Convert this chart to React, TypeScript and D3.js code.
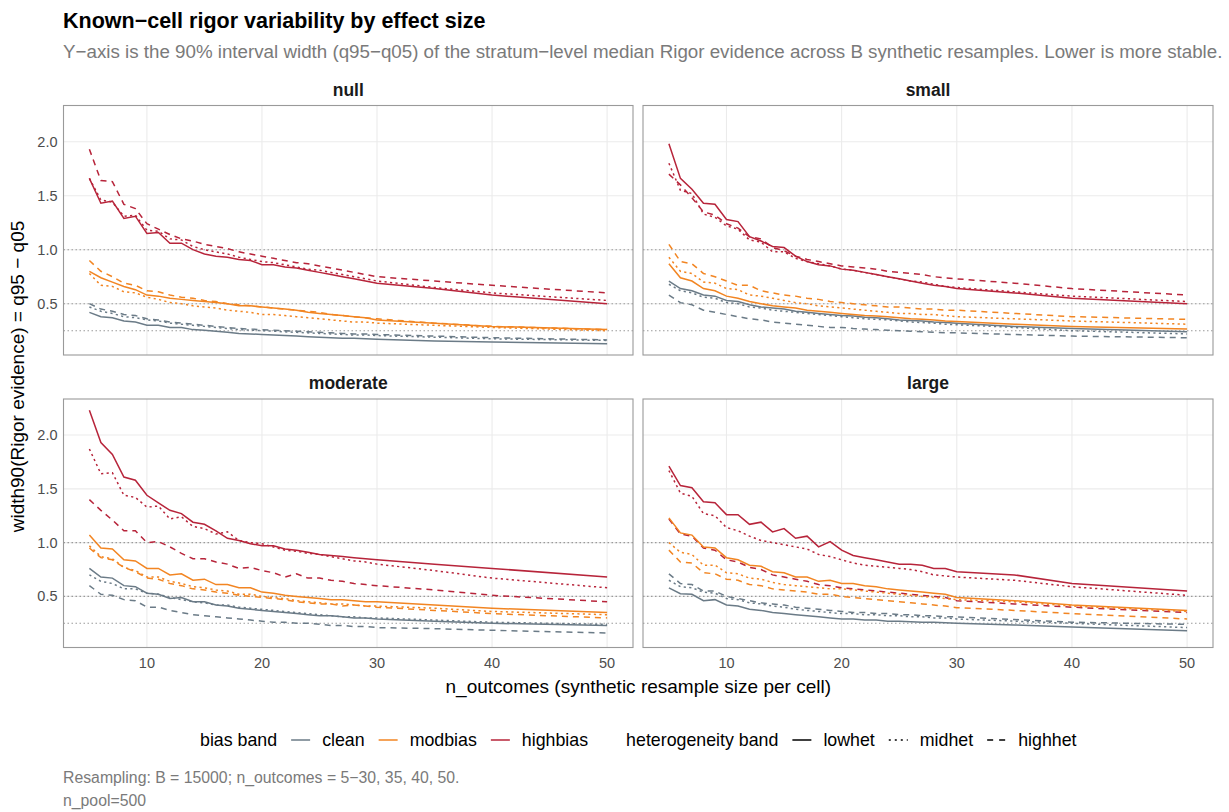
import React, { useEffect, useRef } from 'react';
import * as d3 from 'd3';

// n_outcomes grid used in the resampling
const N_OUTCOMES = [5, 6, 7, 8, 9, 10, 11, 12, 13, 14, 15, 16, 17, 18, 19, 20, 21, 22, 23, 24, 25, 26, 27, 28, 29, 30, 35, 40, 50];

const FACETS = ['null', 'small', 'moderate', 'large'];
const BIAS_BANDS = ['clean', 'modbias', 'highbias'];
const HET_BANDS = ['lowhet', 'midhet', 'highhet'];
const REF_LINES = [0.25, 0.5, 1.0];
const Y_TICKS = [0.5, 1.0, 1.5, 2.0];
const X_TICKS = [10, 20, 30, 40, 50];

// null
const nullCleanLow = [0.42, 0.38, 0.37, 0.34, 0.33, 0.3, 0.3, 0.28, 0.28, 0.26, 0.255, 0.245, 0.235, 0.225, 0.22, 0.215, 0.21, 0.205, 0.2, 0.195, 0.19, 0.185, 0.18, 0.18, 0.175, 0.17, 0.155, 0.145, 0.13];
const nullCleanMid = [0.47, 0.43, 0.41, 0.38, 0.37, 0.35, 0.34, 0.32, 0.31, 0.3, 0.29, 0.28, 0.27, 0.26, 0.255, 0.25, 0.245, 0.24, 0.235, 0.23, 0.225, 0.22, 0.215, 0.21, 0.21, 0.205, 0.19, 0.175, 0.16];
const nullCleanHigh = [0.5, 0.45, 0.43, 0.4, 0.39, 0.36, 0.35, 0.33, 0.32, 0.31, 0.3, 0.29, 0.28, 0.27, 0.265, 0.26, 0.255, 0.25, 0.245, 0.24, 0.235, 0.23, 0.225, 0.22, 0.22, 0.215, 0.2, 0.185, 0.165];
const nullModLow = [0.8, 0.74, 0.7, 0.66, 0.63, 0.58, 0.57, 0.55, 0.54, 0.53, 0.52, 0.51, 0.5, 0.48, 0.48, 0.47, 0.46, 0.45, 0.44, 0.42, 0.41, 0.4, 0.39, 0.38, 0.37, 0.35, 0.32, 0.29, 0.26];
const nullModMid = [0.78, 0.67, 0.66, 0.61, 0.6, 0.56, 0.54, 0.51, 0.5, 0.48, 0.47, 0.46, 0.44, 0.43, 0.42, 0.4, 0.4, 0.39, 0.38, 0.37, 0.36, 0.35, 0.34, 0.33, 0.33, 0.32, 0.3, 0.28, 0.25];
const nullModHigh = [0.9, 0.8, 0.75, 0.69, 0.67, 0.62, 0.61, 0.58, 0.56, 0.55, 0.53, 0.52, 0.5, 0.49, 0.48, 0.47, 0.46, 0.45, 0.44, 0.43, 0.42, 0.4, 0.39, 0.38, 0.37, 0.36, 0.32, 0.29, 0.26];
const nullHighLow = [1.66, 1.43, 1.45, 1.29, 1.31, 1.15, 1.16, 1.06, 1.06, 1.0, 0.96, 0.94, 0.93, 0.91, 0.9, 0.86, 0.86, 0.84, 0.83, 0.81, 0.79, 0.77, 0.75, 0.73, 0.71, 0.69, 0.64, 0.58, 0.5];
const nullHighMid = [1.66, 1.46, 1.44, 1.31, 1.32, 1.18, 1.17, 1.1, 1.09, 1.03, 1.0, 0.98, 0.96, 0.93, 0.91, 0.89, 0.88, 0.86, 0.84, 0.82, 0.81, 0.79, 0.77, 0.75, 0.73, 0.71, 0.65, 0.6, 0.53];
const nullHighHigh = [1.93, 1.64, 1.63, 1.42, 1.38, 1.24, 1.19, 1.14, 1.1, 1.08, 1.05, 1.03, 1.01, 0.98, 0.96, 0.94, 0.92, 0.9, 0.88, 0.87, 0.85, 0.83, 0.81, 0.79, 0.77, 0.75, 0.71, 0.67, 0.6];

// small
const smallCleanLow = [0.71, 0.64, 0.62, 0.58, 0.57, 0.53, 0.52, 0.49, 0.47, 0.46, 0.45, 0.43, 0.42, 0.41, 0.4, 0.39, 0.385, 0.375, 0.37, 0.36, 0.35, 0.345, 0.34, 0.33, 0.325, 0.32, 0.29, 0.27, 0.24];
const smallCleanMid = [0.68, 0.62, 0.6, 0.56, 0.55, 0.51, 0.5, 0.47, 0.46, 0.44, 0.43, 0.42, 0.41, 0.4, 0.39, 0.38, 0.37, 0.36, 0.355, 0.35, 0.34, 0.33, 0.325, 0.32, 0.31, 0.305, 0.28, 0.25, 0.22];
const smallCleanHigh = [0.58, 0.51, 0.49, 0.44, 0.42, 0.4, 0.38, 0.36, 0.35, 0.33, 0.32, 0.31, 0.3, 0.29, 0.28, 0.28, 0.27, 0.265, 0.26, 0.255, 0.25, 0.245, 0.24, 0.235, 0.23, 0.23, 0.215, 0.2, 0.185];
const smallModLow = [0.87, 0.74, 0.71, 0.64, 0.62, 0.57, 0.55, 0.52, 0.5, 0.48, 0.47, 0.46, 0.44, 0.43, 0.42, 0.41, 0.4, 0.39, 0.385, 0.38, 0.37, 0.36, 0.355, 0.35, 0.34, 0.335, 0.31, 0.29, 0.265];
const smallModMid = [0.93, 0.8, 0.78, 0.7, 0.69, 0.64, 0.63, 0.58, 0.57, 0.55, 0.53, 0.51, 0.5, 0.48, 0.47, 0.46, 0.45, 0.44, 0.43, 0.42, 0.41, 0.41, 0.4, 0.4, 0.39, 0.38, 0.36, 0.34, 0.31];
const smallModHigh = [1.05, 0.89, 0.87, 0.78, 0.75, 0.71, 0.67, 0.67, 0.62, 0.6, 0.58, 0.57, 0.55, 0.54, 0.52, 0.51, 0.5, 0.49, 0.48, 0.47, 0.47, 0.46, 0.45, 0.45, 0.44, 0.44, 0.41, 0.38, 0.355];
const smallHighLow = [1.98, 1.66, 1.56, 1.43, 1.42, 1.28, 1.26, 1.12, 1.08, 1.03, 1.02, 0.94, 0.89, 0.86, 0.85, 0.82, 0.81, 0.79, 0.77, 0.75, 0.73, 0.71, 0.69, 0.67, 0.66, 0.64, 0.6, 0.55, 0.5];
const smallHighMid = [1.8, 1.55, 1.52, 1.33, 1.3, 1.22, 1.19, 1.09, 1.07, 0.98, 0.98, 0.92, 0.89, 0.87, 0.85, 0.82, 0.81, 0.79, 0.77, 0.75, 0.73, 0.71, 0.7, 0.68, 0.66, 0.65, 0.61, 0.57, 0.52];
const smallHighHigh = [1.7, 1.6, 1.48, 1.35, 1.32, 1.24, 1.2, 1.12, 1.1, 1.02, 0.99, 0.94, 0.91, 0.89, 0.87, 0.85, 0.84, 0.83, 0.82, 0.8, 0.79, 0.78, 0.77, 0.75, 0.74, 0.73, 0.69, 0.64, 0.58];

// moderate
const modCleanLow = [0.76, 0.68, 0.67, 0.6, 0.59, 0.53, 0.52, 0.48, 0.49, 0.45, 0.45, 0.42, 0.41, 0.39, 0.38, 0.37, 0.36, 0.35, 0.34, 0.33, 0.32, 0.32, 0.31, 0.3, 0.3, 0.29, 0.27, 0.25, 0.23];
const modCleanMid = [0.7, 0.64, 0.62, 0.57, 0.57, 0.53, 0.52, 0.49, 0.47, 0.45, 0.44, 0.42, 0.42, 0.4, 0.39, 0.38, 0.37, 0.36, 0.35, 0.34, 0.33, 0.32, 0.31, 0.31, 0.3, 0.3, 0.28, 0.26, 0.24];
const modCleanHigh = [0.6, 0.52, 0.51, 0.47, 0.46, 0.4, 0.4, 0.37, 0.35, 0.33, 0.32, 0.31, 0.3, 0.29, 0.28, 0.27, 0.26, 0.26, 0.25, 0.25, 0.24, 0.23, 0.23, 0.22, 0.22, 0.21, 0.2, 0.185, 0.16];
const modModLow = [1.07, 0.95, 0.94, 0.84, 0.83, 0.76, 0.76, 0.7, 0.71, 0.65, 0.66, 0.61, 0.61, 0.58, 0.58, 0.54, 0.53, 0.51, 0.5, 0.49, 0.48, 0.47, 0.47, 0.46, 0.45, 0.45, 0.42, 0.39, 0.35];
const modModMid = [0.97, 0.87, 0.85, 0.77, 0.74, 0.68, 0.68, 0.64, 0.62, 0.59, 0.58, 0.56, 0.55, 0.52, 0.52, 0.5, 0.49, 0.48, 0.46, 0.45, 0.44, 0.43, 0.43, 0.42, 0.41, 0.41, 0.39, 0.36, 0.33];
const modModHigh = [0.95, 0.86, 0.84, 0.77, 0.73, 0.67, 0.66, 0.62, 0.6, 0.57, 0.56, 0.54, 0.53, 0.51, 0.5, 0.49, 0.48, 0.47, 0.45, 0.44, 0.43, 0.43, 0.41, 0.42, 0.41, 0.4, 0.37, 0.34, 0.3];
const modHighLow = [2.23, 1.93, 1.82, 1.61, 1.58, 1.44, 1.37, 1.3, 1.27, 1.19, 1.17, 1.11, 1.04, 1.02, 0.99, 0.97, 0.97, 0.94, 0.93, 0.91, 0.89, 0.88, 0.87, 0.86, 0.85, 0.84, 0.8, 0.76, 0.68];
const modHighMid = [1.87, 1.64, 1.65, 1.44, 1.42, 1.33, 1.34, 1.22, 1.24, 1.15, 1.13, 1.08, 1.1, 1.02, 1.0, 0.99, 0.96, 0.93, 0.92, 0.9, 0.89, 0.87, 0.85, 0.83, 0.82, 0.8, 0.74, 0.67, 0.58];
const modHighHigh = [1.4, 1.3, 1.21, 1.11, 1.11, 1.0, 1.01, 0.96, 0.9, 0.85, 0.85, 0.82, 0.8, 0.76, 0.77, 0.74, 0.72, 0.68, 0.71, 0.67, 0.67, 0.65, 0.64, 0.62, 0.61, 0.6, 0.56, 0.51, 0.45];

// large
const largeCleanLow = [0.58, 0.525, 0.52, 0.46, 0.47, 0.42, 0.41, 0.38, 0.37, 0.35, 0.34, 0.33, 0.32, 0.31, 0.3, 0.29, 0.29, 0.28, 0.28, 0.27, 0.27, 0.265, 0.26, 0.26, 0.255, 0.25, 0.235, 0.215, 0.18];
const largeCleanMid = [0.65, 0.59, 0.58, 0.54, 0.53, 0.48, 0.47, 0.44, 0.43, 0.41, 0.4, 0.38, 0.37, 0.36, 0.35, 0.34, 0.34, 0.33, 0.33, 0.32, 0.32, 0.31, 0.31, 0.3, 0.3, 0.29, 0.27, 0.25, 0.21];
const largeCleanHigh = [0.71, 0.62, 0.61, 0.55, 0.55, 0.5, 0.48, 0.46, 0.44, 0.43, 0.42, 0.4, 0.39, 0.38, 0.37, 0.36, 0.35, 0.35, 0.34, 0.34, 0.33, 0.33, 0.32, 0.32, 0.31, 0.31, 0.285, 0.26, 0.24];
const largeModLow = [1.23, 1.09, 1.07, 0.96, 0.95, 0.86, 0.84, 0.79, 0.78, 0.73, 0.72, 0.68, 0.68, 0.64, 0.65, 0.62, 0.62, 0.6, 0.59, 0.57, 0.56, 0.55, 0.54, 0.53, 0.52, 0.49, 0.46, 0.42, 0.37];
const largeModMid = [1.0, 0.91, 0.89, 0.79, 0.79, 0.72, 0.71, 0.67, 0.66, 0.63, 0.61, 0.6, 0.59, 0.58, 0.57, 0.57, 0.56, 0.55, 0.54, 0.53, 0.52, 0.51, 0.5, 0.49, 0.48, 0.47, 0.45, 0.41, 0.36];
const largeModHigh = [0.93, 0.82, 0.81, 0.72, 0.71, 0.66, 0.65, 0.61, 0.6, 0.57, 0.56, 0.55, 0.54, 0.52, 0.52, 0.5, 0.49, 0.48, 0.47, 0.46, 0.45, 0.44, 0.43, 0.42, 0.41, 0.395, 0.37, 0.34, 0.29];
const largeHighLow = [1.71, 1.53, 1.51, 1.38, 1.37, 1.26, 1.26, 1.17, 1.19, 1.1, 1.13, 1.04, 1.06, 0.96, 1.01, 0.93, 0.88, 0.86, 0.84, 0.82, 0.8, 0.8, 0.79, 0.76, 0.76, 0.73, 0.7, 0.62, 0.55];
const largeHighMid = [1.67, 1.46, 1.43, 1.27, 1.25, 1.14, 1.11, 1.06, 1.02, 1.0, 0.98, 0.96, 0.94, 0.89, 0.87, 0.84, 0.81, 0.79, 0.78, 0.77, 0.76, 0.75, 0.73, 0.7, 0.69, 0.68, 0.65, 0.59, 0.51];
const largeHighHigh = [1.22, 1.08, 1.06, 0.95, 0.93, 0.84, 0.82, 0.77, 0.75, 0.7, 0.68, 0.66, 0.64, 0.61, 0.6, 0.58, 0.57, 0.56, 0.55, 0.54, 0.53, 0.52, 0.51, 0.5, 0.49, 0.46, 0.43, 0.4, 0.35];

// drawn in this order (highbias before modbias, so orange sits on top where they overlap)
const SERIES = [
  { facet: 'null', bias: 'clean', het: 'lowhet', values: nullCleanLow },
  { facet: 'null', bias: 'clean', het: 'midhet', values: nullCleanMid },
  { facet: 'null', bias: 'clean', het: 'highhet', values: nullCleanHigh },
  { facet: 'null', bias: 'highbias', het: 'lowhet', values: nullHighLow },
  { facet: 'null', bias: 'highbias', het: 'midhet', values: nullHighMid },
  { facet: 'null', bias: 'highbias', het: 'highhet', values: nullHighHigh },
  { facet: 'null', bias: 'modbias', het: 'lowhet', values: nullModLow },
  { facet: 'null', bias: 'modbias', het: 'midhet', values: nullModMid },
  { facet: 'null', bias: 'modbias', het: 'highhet', values: nullModHigh },
  { facet: 'small', bias: 'clean', het: 'lowhet', values: smallCleanLow },
  { facet: 'small', bias: 'clean', het: 'midhet', values: smallCleanMid },
  { facet: 'small', bias: 'clean', het: 'highhet', values: smallCleanHigh },
  { facet: 'small', bias: 'highbias', het: 'lowhet', values: smallHighLow },
  { facet: 'small', bias: 'highbias', het: 'midhet', values: smallHighMid },
  { facet: 'small', bias: 'highbias', het: 'highhet', values: smallHighHigh },
  { facet: 'small', bias: 'modbias', het: 'lowhet', values: smallModLow },
  { facet: 'small', bias: 'modbias', het: 'midhet', values: smallModMid },
  { facet: 'small', bias: 'modbias', het: 'highhet', values: smallModHigh },
  { facet: 'moderate', bias: 'clean', het: 'lowhet', values: modCleanLow },
  { facet: 'moderate', bias: 'clean', het: 'midhet', values: modCleanMid },
  { facet: 'moderate', bias: 'clean', het: 'highhet', values: modCleanHigh },
  { facet: 'moderate', bias: 'highbias', het: 'lowhet', values: modHighLow },
  { facet: 'moderate', bias: 'highbias', het: 'midhet', values: modHighMid },
  { facet: 'moderate', bias: 'highbias', het: 'highhet', values: modHighHigh },
  { facet: 'moderate', bias: 'modbias', het: 'lowhet', values: modModLow },
  { facet: 'moderate', bias: 'modbias', het: 'midhet', values: modModMid },
  { facet: 'moderate', bias: 'modbias', het: 'highhet', values: modModHigh },
  { facet: 'large', bias: 'clean', het: 'lowhet', values: largeCleanLow },
  { facet: 'large', bias: 'clean', het: 'midhet', values: largeCleanMid },
  { facet: 'large', bias: 'clean', het: 'highhet', values: largeCleanHigh },
  { facet: 'large', bias: 'highbias', het: 'lowhet', values: largeHighLow },
  { facet: 'large', bias: 'highbias', het: 'midhet', values: largeHighMid },
  { facet: 'large', bias: 'highbias', het: 'highhet', values: largeHighHigh },
  { facet: 'large', bias: 'modbias', het: 'lowhet', values: largeModLow },
  { facet: 'large', bias: 'modbias', het: 'midhet', values: largeModMid },
  { facet: 'large', bias: 'modbias', het: 'highhet', values: largeModHigh },
];

const COLORS: Record<string, string> = { clean: '#6b7b87', modbias: '#f28522', highbias: '#b7243a' };
const DASHES: Record<string, string | null> = { lowhet: null, midhet: '2.2,3.3', highhet: '6,5' };
const FONT = '"Liberation Sans", Arial, Helvetica, sans-serif';

const App = () => {
  const ref = useRef<SVGSVGElement | null>(null);

  useEffect(() => {
    const W = 1229;
    const H = 812;
    const svg = d3.select(ref.current);
    svg.selectAll('*').remove();
    svg.attr('width', W).attr('height', H).style('font-family', FONT);

    svg.append('rect').attr('width', W).attr('height', H).attr('fill', '#fff');

    // panel layout (facet_wrap 2x2)
    const cols = [[63.5, 633], [643, 1213]];
    const rows = [[105.5, 355], [399, 647.5]];

    // shared scales with 5% expansion, like ggplot
    const xExt = d3.extent(N_OUTCOMES) as [number, number];
    const xPad = (xExt[1] - xExt[0]) * 0.05;
    const allVals = SERIES.flatMap(s => s.values);
    const yExt = d3.extent(allVals) as [number, number];
    const yPad = (yExt[1] - yExt[0]) * 0.05;

    const line = d3.line<[number, number]>();

    FACETS.forEach((facet, i) => {
      const [x0, x1] = cols[i % 2];
      const [y0, y1] = rows[Math.floor(i / 2)];
      const x = d3.scaleLinear().domain([xExt[0] - xPad, xExt[1] + xPad]).range([x0, x1]);
      const y = d3.scaleLinear().domain([yExt[0] - yPad, yExt[1] + yPad]).range([y1, y0]);
      const g = svg.append('g');

      // grid
      g.selectAll('.gy').data(Y_TICKS).enter().append('line')
        .attr('x1', x0).attr('x2', x1)
        .attr('y1', d => y(d)).attr('y2', d => y(d))
        .attr('stroke', '#ebebeb').attr('stroke-width', 1.1);
      g.selectAll('.gx').data(X_TICKS).enter().append('line')
        .attr('y1', y0).attr('y2', y1)
        .attr('x1', d => x(d)).attr('x2', d => x(d))
        .attr('stroke', '#ebebeb').attr('stroke-width', 1.1);

      // reference lines
      g.selectAll('.ref').data(REF_LINES).enter().append('line')
        .attr('x1', x0).attr('x2', x1)
        .attr('y1', d => y(d)).attr('y2', d => y(d))
        .attr('stroke', '#9a9a9a').attr('stroke-width', 1.1)
        .attr('stroke-dasharray', '1.5,2.5');

      // series
      SERIES.filter(s => s.facet === facet).forEach(s => {
        const pts = s.values.map((v, k) => [x(N_OUTCOMES[k]), y(v)] as [number, number]);
        const p = g.append('path')
          .attr('d', line(pts))
          .attr('fill', 'none')
          .attr('stroke', COLORS[s.bias])
          .attr('stroke-width', 1.5);
        if (DASHES[s.het]) p.attr('stroke-dasharray', DASHES[s.het]);
      });

      // border
      g.append('rect')
        .attr('x', x0).attr('y', y0).attr('width', x1 - x0).attr('height', y1 - y0)
        .attr('fill', 'none').attr('stroke', '#9a9a9a').attr('stroke-width', 1.1);

      // strip
      g.append('text')
        .attr('x', (x0 + x1) / 2).attr('y', y0 - 10)
        .attr('text-anchor', 'middle')
        .style('font-size', '17.5px').style('font-weight', 'bold').attr('fill', '#1a1a1a')
        .text(facet);

      if (i % 2 === 0) {
        g.selectAll('.yt').data(Y_TICKS).enter().append('text')
          .attr('x', x0 - 6).attr('y', d => y(d)).attr('dy', '0.35em')
          .attr('text-anchor', 'end')
          .style('font-size', '14.5px').attr('fill', '#4d4d4d')
          .text(d => d3.format('.1f')(d));
      }
      if (i >= 2) {
        g.selectAll('.xt').data(X_TICKS).enter().append('text')
          .attr('x', d => x(d)).attr('y', y1 + 20)
          .attr('text-anchor', 'middle')
          .style('font-size', '14.5px').attr('fill', '#4d4d4d')
          .text(d => d);
      }
    });

    // titles
    svg.append('text').attr('x', 63).attr('y', 28)
      .style('font-size', '21.5px').style('font-weight', 'bold').attr('fill', '#000')
      .text('Known\u2212cell rigor variability by effect size');
    svg.append('text').attr('x', 63).attr('y', 58)
      .style('font-size', '18.75px').attr('fill', '#7a7a7a')
      .text('Y\u2212axis is the 90% interval width (q95\u2212q05) of the stratum\u2212level median Rigor evidence across B synthetic resamples. Lower is more stable.');

    // axis titles
    svg.append('text')
      .attr('transform', `translate(24,${(105.5 + 647.5) / 2}) rotate(-90)`)
      .attr('text-anchor', 'middle')
      .style('font-size', '19px').attr('fill', '#000')
      .text('width90(Rigor evidence) = q95 \u2212 q05');
    svg.append('text')
      .attr('x', (63.5 + 1213) / 2).attr('y', 693)
      .attr('text-anchor', 'middle')
      .style('font-size', '19px').attr('fill', '#000')
      .text('n_outcomes (synthetic resample size per cell)');

    // legend
    const legend = svg.append('g');
    const legY = 740;
    let cx = 0;
    const addText = (t: string) => {
      const el = legend.append('text').attr('x', cx).attr('y', legY).attr('dy', '0.35em')
        .style('font-size', '17.8px').attr('fill', '#000').text(t);
      cx += (el.node() as SVGTextElement).getComputedTextLength();
    };
    const addKey = (color: string, dash: string | null) => {
      cx += 14;
      const l = legend.append('line').attr('x1', cx).attr('x2', cx + 19)
        .attr('y1', legY).attr('y2', legY)
        .attr('stroke', color).attr('stroke-width', 1.5);
      if (dash) l.attr('stroke-dasharray', dash);
      cx += 19 + 12;
    };
    addText('bias band');
    BIAS_BANDS.forEach(b => { addKey(COLORS[b], null); addText(b); });
    cx += 38;
    addText('heterogeneity band');
    HET_BANDS.forEach(h => { addKey('#000', h === 'midhet' ? '2,4' : h === 'highhet' ? '6,6' : null); addText(h); });
    const legW = cx;
    legend.attr('transform', `translate(${(63.5 + 1213) / 2 - legW / 2},0)`);

    // caption
    svg.append('text').attr('x', 63).attr('y', 783)
      .style('font-size', '15.8px').attr('fill', '#7a7a7a')
      .text('Resampling: B = 15000; n_outcomes = 5\u221230, 35, 40, 50.');
    svg.append('text').attr('x', 63).attr('y', 806)
      .style('font-size', '15.8px').attr('fill', '#7a7a7a')
      .text('n_pool=500');
  }, []);

  return (
    <div style={{ position: 'absolute', left: 0, top: 0 }}>
      <svg ref={ref} style={{ display: 'block' }} />
    </div>
  );
};

export default App;
